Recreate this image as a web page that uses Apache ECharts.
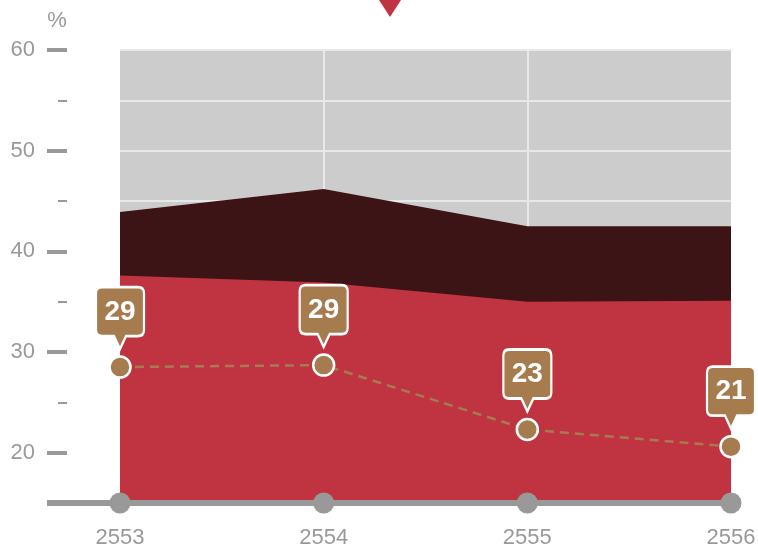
<!DOCTYPE html>
<html><head><meta charset="utf-8">
<style>html,body{margin:0;padding:0;background:#fff}#c{width:758px;height:546px}</style>
<script src="https://cdn.jsdelivr.net/npm/echarts@6/dist/echarts.min.js"></script>
</head><body><div id="c"></div>
<script>
const years = ['2553', '2554', '2555', '2556'];
const darkTop = [43.9, 46.2, 42.5, 42.5];
const redTop = [37.6, 36.9, 35.0, 35.1];
const dotted = [28.5, 28.7, 22.3, 20.6];
const dotLabels = ['29', '29', '23', '21'];
const baseVals = [15, 15, 15, 15];
const majorTicks = [20, 30, 40, 50, 60];
const minorTicks = [25, 35, 45, 55];

const GRAY = '#999999', BROWN = '#a67b4e', RED = '#c03442', DARK = '#3d1416';
const FONT = '"Liberation Sans", Arial, Helvetica, sans-serif';
const callout = 'path://M6,0 H42 Q48,0 48,6 V43 Q48,49 42,49 H30 L24,62 L18,49 H6 Q0,49 0,43 V6 Q0,0 6,0 Z';

const chart = echarts.init(document.getElementById('c'));
chart.setOption({
  animation: false,
  grid: { left: 120, right: 27, top: 50, bottom: 43, show: true, backgroundColor: '#cccccc', borderWidth: 0,
    outerBoundsMode: 'none', containLabel: false },
  xAxis: [{
    type: 'category', data: years, boundaryGap: false,
    axisLine: { show: false }, axisTick: { show: false }, axisLabel: { show: false },
    splitLine: { show: true, interval: (i) => i === 1 || i === 2, lineStyle: { color: '#e8e8e8', width: 2 } }
  }, {
    type: 'category', data: years, boundaryGap: false, position: 'bottom', z: 3,
    axisLine: { lineStyle: { color: GRAY, width: 6 } },
    axisTick: { show: false },
    axisLabel: { color: GRAY, fontSize: 22, fontFamily: FONT, margin: 24 },
    splitLine: { show: false }
  }],
  yAxis: [{
    type: 'value', min: 15, max: 60, interval: 5, offset: 53,
    name: '%', nameLocation: 'end', nameGap: 18,
    nameTextStyle: { color: GRAY, fontSize: 22, fontFamily: FONT, align: 'center', padding: [0, 20, 0, 0] },
    axisLine: { show: false },
    axisTick: { show: true, customValues: majorTicks, length: 20, lineStyle: { color: GRAY, width: 4 } },
    axisLabel: { customValues: majorTicks, color: GRAY, fontSize: 22, fontFamily: FONT, margin: 32 },
    splitLine: { show: true, lineStyle: { color: '#e8e8e8', width: 2 } }
  }, {
    type: 'value', min: 15, max: 60, interval: 5, offset: 53, position: 'left',
    axisLine: { show: false },
    axisTick: { show: true, customValues: minorTicks, length: 9, lineStyle: { color: GRAY, width: 2 } },
    axisLabel: { show: false },
    splitLine: { show: true, lineStyle: { color: '#e8e8e8', width: 2 } }
  }],
  graphic: [
    { type: 'polygon', shape: { points: [[379, 0], [401, 0], [390, 17]] }, style: { fill: RED } },
    { type: 'line', shape: { x1: 47, y1: 503, x2: 120, y2: 503 }, style: { stroke: GRAY, lineWidth: 6 } }
  ],
  series: [
    { type: 'line', data: darkTop, symbol: 'none', lineStyle: { width: 0 }, areaStyle: { color: DARK, opacity: 1, origin: 'start' }, z: 1 },
    { type: 'line', data: redTop, symbol: 'none', lineStyle: { width: 0 }, areaStyle: { color: RED, opacity: 1, origin: 'start' }, z: 2 },
    { type: 'scatter', data: baseVals, symbol: 'circle', symbolSize: 21, itemStyle: { color: GRAY, opacity: 1 }, z: 4, clip: false },
    { type: 'line', data: dotted, symbol: 'circle', symbolSize: 21, clip: false, z: 5,
      lineStyle: { color: BROWN, width: 2.5, type: [9, 6] },
      itemStyle: { color: BROWN, borderColor: '#ffffff', borderWidth: 2.5 } },
    { type: 'scatter', data: dotted, symbol: callout, symbolSize: [48, 62], symbolOffset: [0, -49], clip: false, z: 6,
      itemStyle: { color: BROWN, borderColor: '#ffffff', borderWidth: 2.5, opacity: 1 },
      label: { show: true, position: 'inside', offset: [0, -6], formatter: (p) => dotLabels[p.dataIndex],
        color: '#ffffff', fontSize: 28, fontWeight: 'bold', fontFamily: FONT } }
  ]
});
</script></body></html>
